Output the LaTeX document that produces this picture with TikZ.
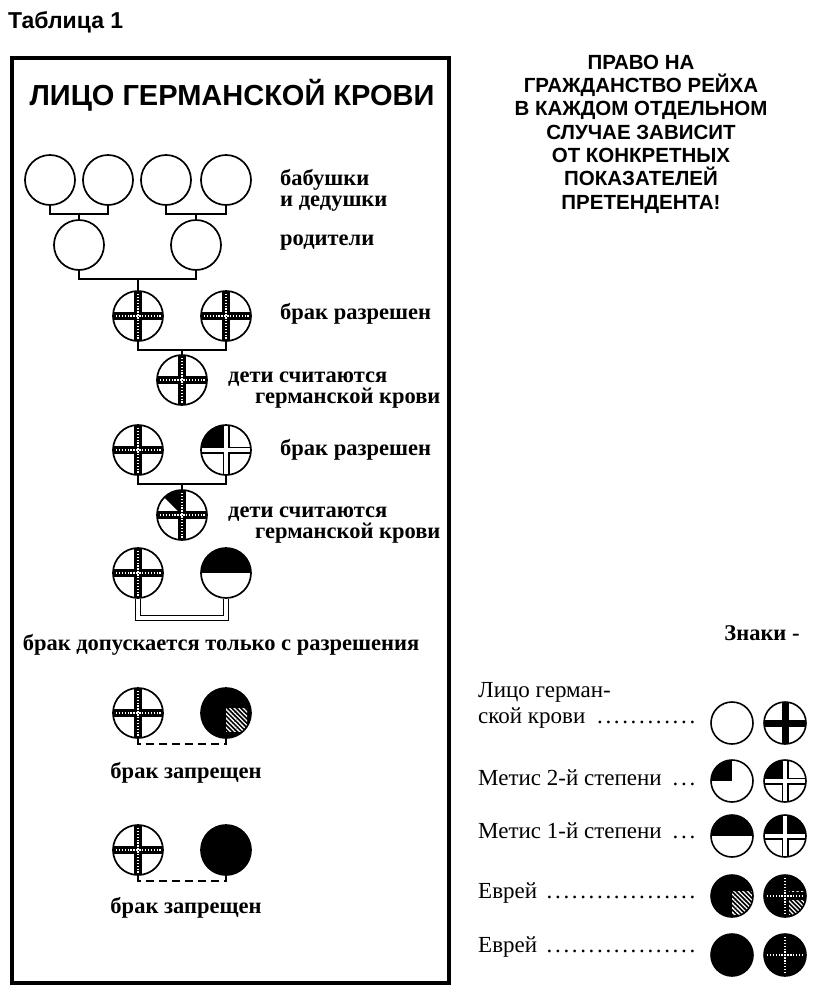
\documentclass[tikz,border=0pt]{standalone}
\usepackage{fontspec}
\setmainfont{Liberation Serif}
\setsansfont{Liberation Sans}
\usetikzlibrary{patterns.meta}

\newcommand{\sgcross}[1]{\draw[#1] (path picture bounding box.north) -- (path picture bounding box.south)
  (path picture bounding box.west) -- (path picture bounding box.east);}
\newcommand{\sgdotted}{\sgcross{line width=8pt}\sgcross{white, line width=1.3pt, dash pattern=on 1.4pt off 1.5pt}}
\newcommand{\sgwhite}{\sgcross{line width=7pt}\sgcross{white, line width=4.2pt}}
\newcommand{\sgquarter}{\fill[black] (path picture bounding box.center) rectangle (path picture bounding box.north west);}
\newcommand{\sghalf}{\fill[black] (path picture bounding box.west) rectangle (path picture bounding box.north east);}
\newcommand{\sgeighth}{\fill[black] (path picture bounding box.center) -- (path picture bounding box.north)
  -- (path picture bounding box.north west) -- cycle;}
\newcommand{\sghatch}{\fill[pattern={Lines[angle=-45, distance=3.2pt, line width=1.3pt]}, pattern color=white]
  (path picture bounding box.center) ++(0pt,5pt) rectangle ++(21pt,-23pt);}
\newcommand{\legdots}{\hspace{5pt}\leaders\hbox to 8.4pt{\hss.\hss}\hfill}

\begin{document}
\begin{tikzpicture}[x=1pt, y=-1pt,
  person/.style={circle, draw, line width=1.7pt, minimum size=50pt, inner sep=0pt, fill=white},
  sign/.style={person, minimum size=42pt, line width=1.6pt},
  germanx/.style={path picture={\sgdotted}},
  germanlx/.style={path picture={\sgcross{line width=7pt}}},
  mixtwo/.style={path picture={\sgquarter}},
  mixtwox/.style={path picture={\sgquarter\sgwhite}},
  mixone/.style={path picture={\sghalf}},
  mixonex/.style={path picture={\sghalf\sgwhite}},
  eighthx/.style={path picture={\sgeighth\sgdotted}},
  jew/.style={fill=black},
  jewh/.style={fill=black, path picture={\sghatch}},
  jewhx/.style={fill=black, path picture={\sghatch\sgdotted}},
  jewx/.style={fill=black, path picture={\sgdotted}},
  link/.style={line width=1.7pt},
  lbl/.style={font=\fontsize{22.5}{21}\selectfont\bfseries, anchor=west, align=left, inner sep=0pt},
  legtxt/.style={font=\fontsize{23}{27}\selectfont, anchor=base west, inner sep=0pt}]
  \useasboundingbox (0,0) rectangle (815,999);
  \node[font=\sffamily\bfseries\fontsize{23}{23}\selectfont, anchor=west, inner sep=0pt] (tab) at (8,22) {Таблица 1};
  \draw[line width=3.5pt] (12,58) rectangle (449,983);
  \node[font=\sffamily\bfseries\fontsize{29}{29}\selectfont] (head) at (232,95) {ЛИЦО ГЕРМАНСКОЙ КРОВИ};
  \node[font=\sffamily\bfseries\fontsize{20.5}{23.3}\selectfont, align=center] (right) at (641,134)
    {ПРАВО НА\\ГРАЖДАНСТВО РЕЙХА\\В КАЖДОМ ОТДЕЛЬНОМ\\СЛУЧАЕ ЗАВИСИТ\\ОТ КОНКРЕТНЫХ\\ПОКАЗАТЕЛЕЙ\\ПРЕТЕНДЕНТА!};

  \foreach \n/\x in {g1/50, g2/108, g3/166, g4/226} \node[person] (\n) at (\x,180) {};
  \node[person] (p1) at (79,245) {};
  \node[person] (p2) at (196,245) {};
  \node[person, germanx] (m1) at (138,316) {};
  \node[person, germanx] (m2) at (226,316) {};
  \node[person, germanx] (k1) at (182,380) {};
  \node[person, germanx] (m3) at (138,450) {};
  \node[person, mixtwox] (m4) at (226,450) {};
  \node[person, eighthx] (k2) at (182,515) {};
  \node[person, germanx] (m5) at (138,573) {};
  \node[person, mixone] (m6) at (226,573) {};
  \node[person, germanx] (m7) at (138,713) {};
  \node[person, jewh] (m8) at (226,713) {};
  \node[person, germanx] (m9) at (138,850) {};
  \node[person, jew] (m10) at (226,850) {};

  \foreach \a/\b/\c in {g1/g2/p1, g3/g4/p2, p1/p2/m1, m1/m2/k1, m3/m4/k2} {
    \draw[link] (\a.south) -- ++(0,8) coordinate (bar) -| (\b.south);
    \draw[link] (\c.north) -- (\c.north |- bar);
  }
  \draw[link, double, double distance=3.5pt, line width=1.4pt] (m5.south) -- ++(0,19) -| (m6.south);
  \draw[link, dash pattern=on 8pt off 5pt] (m7.south) -- ++(0,5) -| (m8.south);
  \draw[link, dash pattern=on 8pt off 5pt] (m9.south) -- ++(0,5) -| (m10.south);

  \node[lbl] (lgp) at (280,190) {бабушки\\и дедушки};
  \node[lbl] (lpar) at (280,243) {родители};
  \node[lbl] (lm1) at (280,314) {брак разрешен};
  \node[lbl] (lk1) at (228,390) {дети считаются\\\hspace*{27pt}германской крови};
  \node[lbl] (lm2) at (280,450) {брак разрешен};
  \node[lbl] (lk2) at (228,525) {дети считаются\\\hspace*{27pt}германской крови};
  \node[lbl, anchor=center] (lm3) at (221,645) {брак допускается только с разрешения};
  \node[lbl, anchor=center] (lm4) at (186,773) {брак запрещен};
  \node[lbl, anchor=center] (lm5) at (186,908) {брак запрещен};

  \node[lbl, anchor=center] (znaki) at (762,633) {Знаки -};
  \node[legtxt] (t0) at (478,697) {Лицо герман-};
  \foreach \n/\y/\t in {t1/723/ской крови, t2/785/Метис 2-й степени, t3/838/Метис 1-й степени,
                        t4/898/Еврей, t5/952/Еврей}
    \node[legtxt] (\n) at (478,\y) {\hbox to 222pt{\t\legdots}};
  \foreach \y/\a/\b [count=\i] in {723/sign/germanlx, 781/mixtwo/mixtwox, 836/mixone/mixonex,
                                   896/jewh/jewhx, 955/jew/jewx} {
    \node[sign, \a] (s\i a) at (732,\y) {};
    \node[sign, \b] (s\i b) at (785,\y) {};
  }
\end{tikzpicture}
\end{document}
